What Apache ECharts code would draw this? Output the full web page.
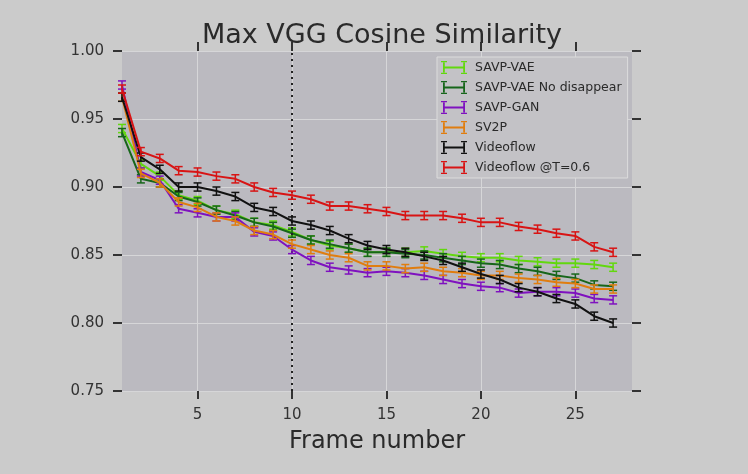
<!DOCTYPE html>
<html>
<head>
<meta charset="utf-8">
<script src="https://cdn.jsdelivr.net/npm/echarts@6/dist/echarts.min.js"></script>
<style>
html,body{margin:0;padding:0;background:#cbcbcb;}
#chart{width:748px;height:474px;}
</style>
</head>
<body>
<div id="chart"></div>
<script>
var frames = [1,2,3,4,5,6,7,8,9,10,11,12,13,14,15,16,17,18,19,20,21,22,23,24,25,26,27];
var xTicks = [5,10,15,20,25];
var yTicks = [0.75,0.80,0.85,0.90,0.95,1.00];
var seriesNames = ['SAVP-VAE','SAVP-VAE No disappear','SAVP-GAN','SV2P','Videoflow','Videoflow @T=0.6'];
var savpVae = [0.943,0.917,0.908,0.894,0.890,0.883,0.880,0.874,0.872,0.867,0.861,0.857,0.855,0.852,0.852,0.852,0.853,0.851,0.849,0.848,0.848,0.846,0.845,0.844,0.844,0.843,0.841];
var savpVaeND = [0.940,0.906,0.903,0.893,0.889,0.883,0.879,0.874,0.871,0.866,0.861,0.858,0.855,0.852,0.852,0.851,0.850,0.848,0.846,0.844,0.843,0.840,0.838,0.835,0.833,0.828,0.827];
var savpGan = [0.975,0.911,0.905,0.884,0.881,0.878,0.878,0.867,0.864,0.854,0.846,0.841,0.839,0.837,0.838,0.837,0.835,0.832,0.829,0.827,0.826,0.822,0.823,0.823,0.822,0.818,0.817];
var sv2p = [0.966,0.910,0.903,0.889,0.885,0.878,0.875,0.868,0.865,0.858,0.854,0.850,0.848,0.842,0.842,0.840,0.841,0.838,0.837,0.835,0.835,0.833,0.832,0.830,0.829,0.825,0.825];
var videoflow = [0.966,0.922,0.913,0.900,0.900,0.897,0.893,0.885,0.882,0.875,0.872,0.868,0.862,0.857,0.854,0.852,0.849,0.846,0.841,0.836,0.832,0.826,0.823,0.818,0.814,0.805,0.800];
var videoflowT = [0.972,0.926,0.921,0.912,0.911,0.908,0.906,0.900,0.896,0.894,0.891,0.886,0.886,0.884,0.882,0.879,0.879,0.879,0.877,0.874,0.874,0.871,0.869,0.866,0.864,0.856,0.852];
var seriesErr = [0.003,0.003,0.003,0.003,0.003,0.003];
var markerFrame = 10;

var allValues = [savpVae, savpVaeND, savpGan, sv2p, videoflow, videoflowT];
var colors = ['#62d80e','#17661a','#7f12bf','#e07d0f','#111111','#d81414'];
var FONT = 'DejaVu Sans';
var iconPath = 'path://M2,1 L2,12 L3.8,12 L3.8,7.4 L22.2,7.4 L22.2,12 L24,12 L24,1 L22.2,1 L22.2,5.6 L3.8,5.6 L3.8,1 Z ' +
  'M0,0 L6,0 L6,1.3 L0,1.3 Z M0,11.7 L6,11.7 L6,13 L0,13 Z M20,0 L26,0 L26,1.3 L20,1.3 Z M20,11.7 L26,11.7 L26,13 L20,13 Z';

var series = [];
allValues.forEach(function (vals, i) {
  var pts = frames.map(function (f, k) { return [f, vals[k]]; });
  var s = {
    name: seriesNames[i], type: 'line', data: pts, symbol: 'none',
    lineStyle: { color: colors[i], width: 2 }, itemStyle: { color: colors[i] },
    z: 3 + i, animation: false
  };
  if (i === 0) {
    s.markLine = {
      silent: true, symbol: 'none', label: { show: false },
      lineStyle: { color: '#222', width: 2, type: [2, 4] },
      data: [{ xAxis: markerFrame }], animation: false
    };
  }
  series.push(s);
  var err = seriesErr[i];
  series.push({
    name: seriesNames[i], type: 'custom', z: 3 + i, animation: false,
    data: frames.map(function (f, k) { return [f, vals[k] - err, vals[k] + err]; }),
    renderItem: function (params, api) {
      var lo = api.coord([api.value(0), api.value(1)]);
      var hi = api.coord([api.value(0), api.value(2)]);
      var w = 4;
      var st = { stroke: colors[i], lineWidth: 1.5, fill: null };
      return { type: 'group', children: [
        { type: 'line', shape: { x1: lo[0], y1: lo[1], x2: hi[0], y2: hi[1] }, style: st },
        { type: 'line', shape: { x1: lo[0] - w, y1: lo[1], x2: lo[0] + w, y2: lo[1] }, style: st },
        { type: 'line', shape: { x1: hi[0] - w, y1: hi[1], x2: hi[0] + w, y2: hi[1] }, style: st }
      ]};
    }
  });
});

var tickStyle = { show: true, length: 9, inside: false, lineStyle: { color: '#333', width: 2 } };
var chart = echarts.init(document.getElementById('chart'), null, { renderer: 'canvas' });
chart.setOption({
  backgroundColor: '#cbcbcb',
  animation: false,
  title: {
    text: 'Max VGG Cosine Similarity', left: 377, top: 17, textAlign: 'center',
    textStyle: { fontFamily: FONT, fontSize: 27, fontWeight: 'normal', color: '#2a2a2a' }
  },
  legend: {
    orient: 'vertical', left: 437, top: 57,
    data: seriesNames.map(function (n) { return { name: n, icon: iconPath }; }),
    itemWidth: 26, itemHeight: 13, itemGap: 7,
    backgroundColor: '#c3c2c6', borderColor: '#dcdcdc', borderWidth: 1,
    padding: [4, 6, 4, 4],
    textStyle: { fontFamily: FONT, fontSize: 12.5, color: '#2a2a2a', padding: [0, 0, 0, 3] }
  },
  grid: { left: 122, right: 116, top: 51, bottom: 83, show: true, backgroundColor: '#bbbac0', borderWidth: 0 },
  xAxis: [{
    type: 'value', min: 1, max: 28,
    name: 'Frame number', nameLocation: 'middle', nameGap: 39,
    nameTextStyle: { fontFamily: FONT, fontSize: 24, color: '#2a2a2a' },
    axisLine: { show: false },
    axisTick: { show: true, length: 8, lineStyle: { color: '#333', width: 2 }, customValues: xTicks },
    axisLabel: { fontFamily: FONT, fontSize: 15, color: '#333', margin: 17, customValues: xTicks },
    splitLine: { show: true, lineStyle: { color: '#d6d6d8', width: 1 } }
  }, {
    type: 'value', min: 1, max: 28, position: 'top',
    axisLine: { show: false },
    axisTick: { show: true, length: 9, lineStyle: { color: '#333', width: 2 }, customValues: xTicks },
    axisLabel: { show: false, customValues: xTicks },
    splitLine: { show: false }
  }],
  yAxis: [{
    type: 'value', min: 0.75, max: 1.0, interval: 0.05,
    axisLine: { show: false },
    axisTick: tickStyle,
    axisLabel: { fontFamily: FONT, fontSize: 15, color: '#333', margin: 18, formatter: function (v) { return v.toFixed(2); } },
    splitLine: { show: true, lineStyle: { color: '#d6d6d8', width: 1 } }
  }, {
    type: 'value', min: 0.75, max: 1.0, interval: 0.05, position: 'right',
    axisLine: { show: false },
    axisTick: tickStyle,
    axisLabel: { show: false },
    splitLine: { show: false }
  }],
  series: series
});
</script>
</body>
</html>
